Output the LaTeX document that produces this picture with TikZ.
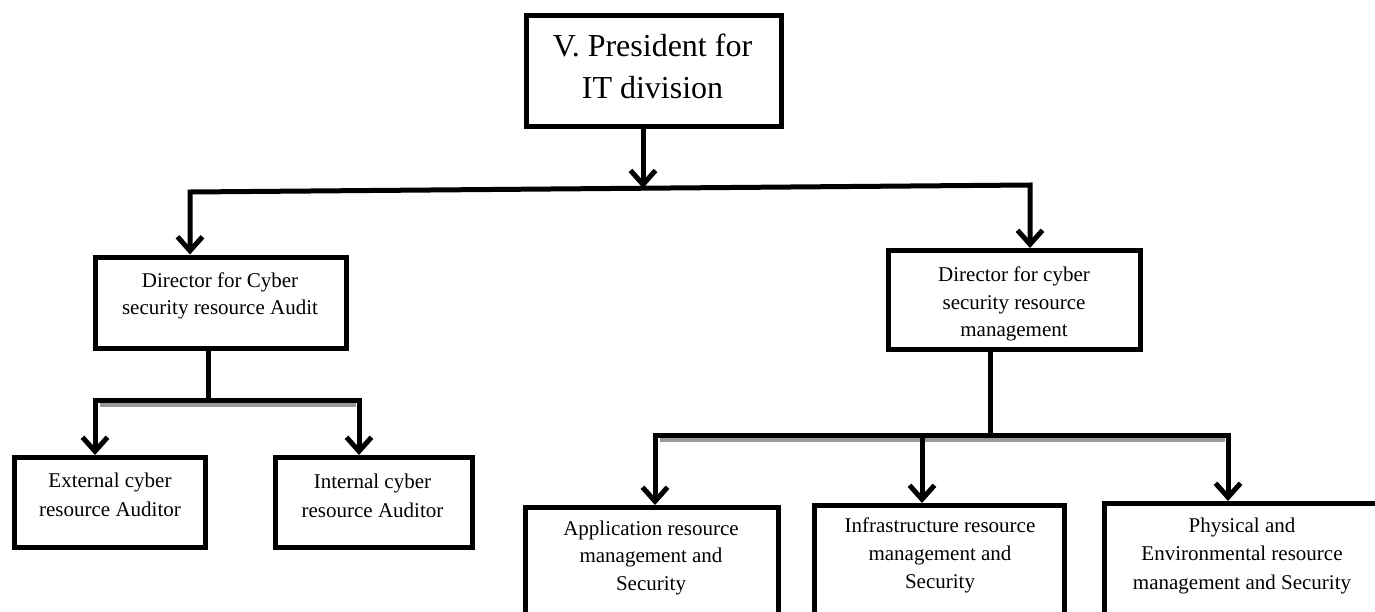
\documentclass[tikz,border=0pt]{standalone}
\usepackage{fontspec}
\setmainfont{Liberation Serif}
\usetikzlibrary{arrows.meta,calc}

\begin{document}
\begin{tikzpicture}[x=1pt,y=-1pt,
  box/.style={draw=black, line width=5pt, inner sep=0pt, fill=white},
  txt/.style={anchor=north, align=center, inner sep=0pt},
  bigtxt/.style={txt, font=\fontsize{32}{42}\selectfont},
  smalltxt/.style={txt, font=\fontsize{21}{28}\selectfont},
  conn/.style={draw=black, line width=5pt, line join=miter},
  shadowline/.style={draw=black!40, line width=3.5pt},
  >={Straight Barb[length=14pt,width=25pt]}
]
\useasboundingbox (0,0) rectangle (1375,611);
\clip (0,0) rectangle (1375,611);
\fill[white] (0,0) rectangle (1375,611);

% boxes
\node[box, minimum width=255pt, minimum height=111pt] (pres) at (653.5,70.5) {};
\node[box, minimum width=251pt, minimum height=91pt]  (dca)  at (220.5,302.5) {};
\node[box, minimum width=252pt, minimum height=99pt]  (dcm)  at (1014.5,300) {};
\node[box, minimum width=191pt, minimum height=90pt]  (ext)  at (110,502.5) {};
\node[box, minimum width=197pt, minimum height=90pt]  (int)  at (374,502.5) {};
\node[box, minimum width=253pt, minimum height=130pt] (app)  at (652,572.5) {};
\node[box, minimum width=250pt, minimum height=130pt] (inf)  at (939.5,570.5) {};
\node[box, minimum width=276pt, minimum height=130pt] (phy)  at (1242,568.5) {};

% labels
\node[bigtxt] (presT) at (652.5,34.1) {V. President for\\IT division};
\node[smalltxt, font=\fontsize{21}{27}\selectfont] (dcaT) at (220,272.7) {Director for Cyber\\security resource Audit};
\node[smalltxt, font=\fontsize{21}{27.5}\selectfont] (dcmT) at (1014,266.7) {Director for cyber\\security resource\\management};
\node[smalltxt, font=\fontsize{21}{29}\selectfont] (extT) at (110,472.7) {External cyber\\resource Auditor};
\node[smalltxt, font=\fontsize{21}{29}\selectfont] (intT) at (372.5,473.7) {Internal cyber\\resource Auditor};
\node[smalltxt, font=\fontsize{21}{27.5}\selectfont] (appT) at (651,520.7) {Application resource\\management and\\Security};
\node[smalltxt] (infT) at (940,517.7) {Infrastructure resource\\management and\\Security};
\node[smalltxt, font=\fontsize{21}{28.5}\selectfont] (phyT) at (1242,517.7) {Physical and\\Environmental resource\\management and Security};

% connector junctions
\coordinate (presdrop) at (643,188.2);
\coordinate (busL) at (190,192);
\coordinate (busR) at (1030,185);
\coordinate (b2) at (208,400);
\coordinate (b2L) at (95,400);
\coordinate (b2R) at (359,400);
\coordinate (b3) at (990,435);
\coordinate (b3L) at (655,435);
\coordinate (b3M) at (922,435);
\coordinate (b3R) at (1228,435);

% soft shadows under the lower buses
\draw[shadowline] ($(b2L)+(5,5)$) -- ($(b2R)+(-3,5)$);
\draw[shadowline] ($(b3L)+(5,5)$) -- ($(b3R)+(-3,5)$);

% top level
\draw[conn,->] (pres.south -| presdrop) -- (presdrop);
\draw[conn,<->] (busL |- dca.north) -- (busL) -- (busR) -- (busR |- dcm.north);

% audit branch
\draw[conn] (dca.south -| b2) -- (b2);
\draw[conn,<->] (b2L |- ext.north) -- (b2L) -- (b2R) -- (b2R |- int.north);

% management branch
\draw[conn] (dcm.south -| b3) -- (b3);
\draw[conn,<->] (b3L |- app.north) -- (b3L) -- (b3R) -- (b3R |- phy.north);
\draw[conn,->] (b3M) -- (b3M |- inf.north);
\end{tikzpicture}
\end{document}
